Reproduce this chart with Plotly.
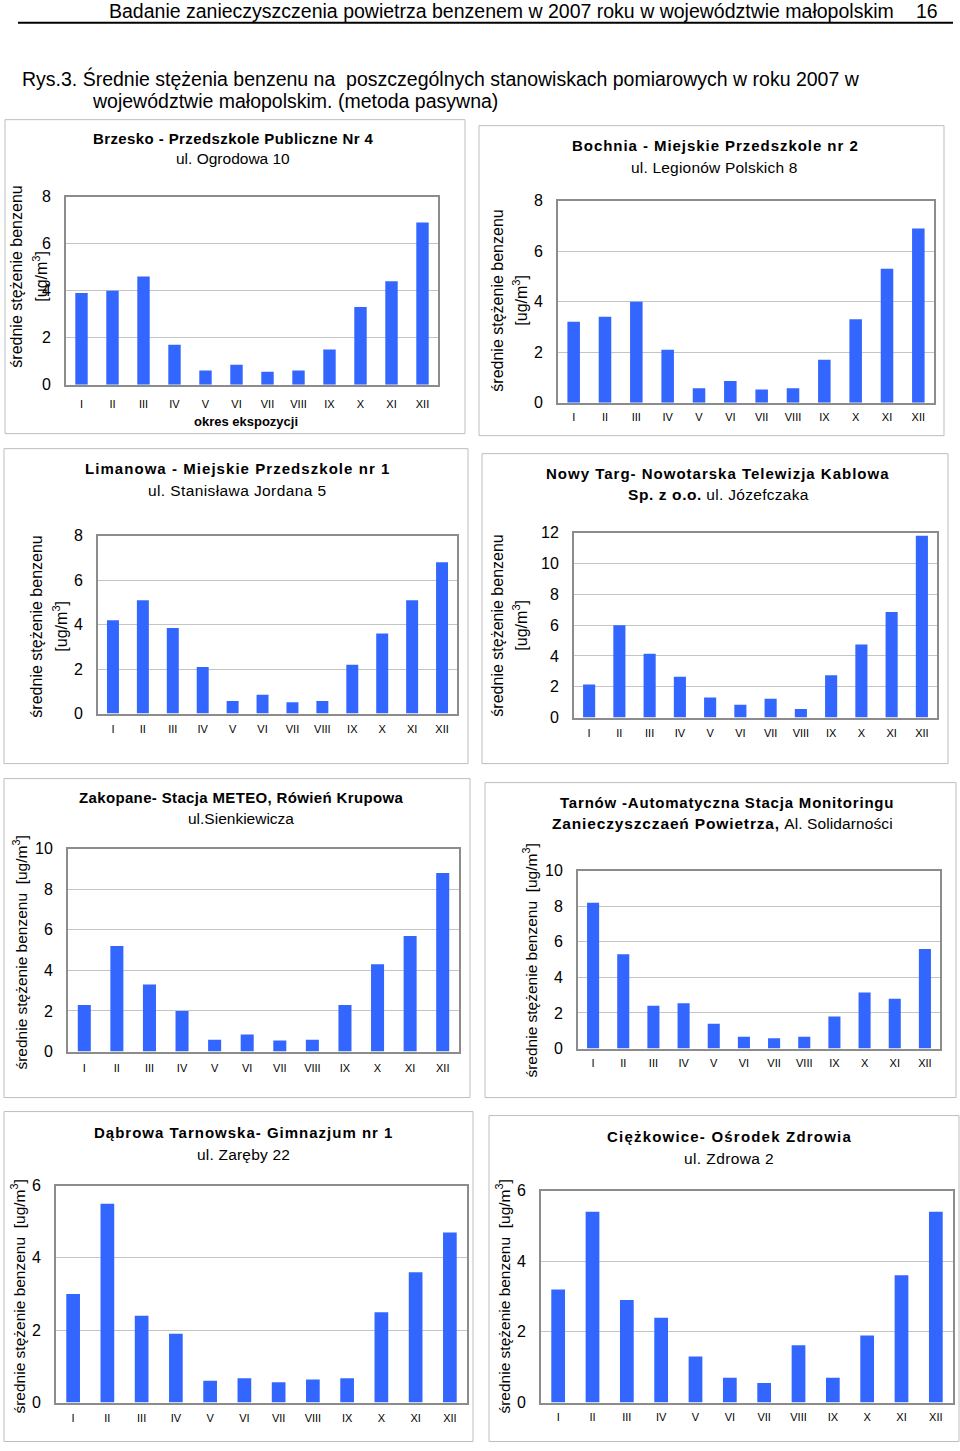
import plotly.graph_objects as go

W, H = 960, 1451
FONT = "Liberation Sans, Arial, sans-serif"

months = ["I", "II", "III", "IV", "V", "VI", "VII", "VIII", "IX", "X", "XI", "XII"]

brzesko = [3.9, 4.0, 4.6, 1.7, 0.6, 0.85, 0.55, 0.6, 1.5, 3.3, 4.4, 6.9]
bochnia = [3.2, 3.4, 4.0, 2.1, 0.57, 0.86, 0.52, 0.57, 1.7, 3.3, 5.3, 6.9]
limanowa = [4.2, 5.1, 3.85, 2.1, 0.57, 0.85, 0.51, 0.57, 2.2, 3.6, 5.1, 6.8]
nowy_targ = [2.15, 6.0, 4.15, 2.65, 1.3, 0.84, 1.23, 0.56, 2.75, 4.75, 6.85, 11.8]
zakopane = [2.3, 5.2, 3.3, 2.0, 0.58, 0.84, 0.54, 0.58, 2.3, 4.3, 5.7, 8.8]
tarnow = [8.2, 5.3, 2.4, 2.55, 1.4, 0.66, 0.58, 0.66, 1.8, 3.15, 2.8, 5.6]
dabrowa = [3.0, 5.5, 2.4, 1.9, 0.6, 0.67, 0.56, 0.64, 0.67, 2.5, 3.6, 4.7]
ciezkowice = [3.2, 5.4, 2.9, 2.4, 1.3, 0.7, 0.55, 1.62, 0.7, 1.9, 3.6, 5.4]

y_max = [8, 8, 8, 12, 10, 10, 6, 6]

titles = [
    "Brzesko - Przedszkole Publiczne Nr 4",
    "Bochnia - Miejskie Przedszkole nr 2",
    "Limanowa - Miejskie Przedszkole nr 1",
    "Nowy Targ- Nowotarska Telewizja Kablowa",
    "Zakopane- Stacja METEO, Rówień Krupowa",
    "Tarnów -Automatyczna Stacja Monitoringu",
    "Dąbrowa Tarnowska- Gimnazjum nr 1",
    "Ciężkowice- Ośrodek Zdrowia",
]
subtitle_bold = ["", "", "", "Sp. z o.o.", "", "Zanieczyszczaeń Powietrza,", "", ""]
subtitles = [
    "ul. Ogrodowa 10",
    "ul. Legionów Polskich 8",
    "ul. Stanisława Jordana 5",
    "ul. Józefczaka",
    "ul.Sienkiewicza",
    "Al. Solidarności",
    "ul. Zaręby 22",
    "ul. Zdrowa 2",
]
ytitle_main = "średnie stężenie benzenu"
ytitle_unit = "[ug/m<sup>3</sup>]"
xtitle = "okres ekspozycji"

series = [brzesko, bochnia, limanowa, nowy_targ, zakopane, tarnow, dabrowa, ciezkowice]

# ---- layout geometry (pixels, as seen in the target picture) ----
panel_box = [(5, 119, 465, 433), (479, 125, 944, 435), (4, 448, 468, 763), (482, 453, 948, 763),
             (4, 778, 470, 1097), (485, 782, 956, 1097), (4, 1111, 473, 1447), (489, 1115, 959, 1447)]
plot_box = [(66, 196, 438, 384), (558, 200, 934, 402), (98, 535, 457, 713), (574, 532, 937, 717),
            (68, 848, 459, 1051), (578, 870, 940, 1048), (56, 1185, 467, 1402), (541, 1190, 953, 1402)]
# (title x, subtitle x, title y, subtitle y)
title_pos = [(233, 233, 138, 158), (715, 714, 145, 167), (237, 237, 468, 490), (718, 718, 473, 494),
             (241, 241, 797, 818), (727, 722, 802, 823), (243, 243, 1132, 1154), (729, 729, 1136, 1158)]
# letter spacing (px) for title, subtitle bold part, subtitle regular part
title_ls = [0.4, 0.95, 1.05, 1.0, 0.35, 0.8, 1.0, 1.2]
sub_bold_ls = [0, 0, 0, 0.6, 0, 0.85, 0, 0]
sub_ls = [0, 0.2, 0.4, 0.3, 0, 0.1, 0.2, 0.4]
# y-title: (x of main line, x of unit line or None, center y)
ytitle_pos = [(17, 40, 276), (498, 520, 300), (37, 60, 626), (498, 520, 625),
              (20, None, 952), (530, None, 960), (18, None, 1296), (503, None, 1296)]
xlab_standoff = [8, 3, 4, 4, 5, 3, 4, 3]

# the page is photographed with a small vertical offset/compression; compensate
Y_OFF, Y_SCALE = 7.3, 0.9884


def px(x):
    return x / W


def py(y):
    yy = (y - Y_OFF) / Y_SCALE
    yy = min(max(yy, 0.5), H - 0.5)
    return 1 - yy / H


def spaced(text, ls, bold=False):
    if bold:
        text = "<b>" + text + "</b>"
    if ls:
        return '<span style="letter-spacing:%.2fpx">%s</span>' % (ls, text)
    return text


fig = go.Figure()
annotations = []
shapes = []

for i, vals in enumerate(series):
    n = "" if i == 0 else str(i + 1)
    fig.add_trace(go.Bar(x=months, y=vals, marker=dict(color="#3366FF", line=dict(width=0)),
                         xaxis="x" + n, yaxis="y" + n, showlegend=False, hoverinfo="x+y"))
    x0, y0, x1, y1 = plot_box[i]
    fig.layout["xaxis" + n] = dict(
        domain=[px(x0), px(x1)], anchor="y" + n, type="category",
        showline=True, mirror=True, linecolor="#8c8c8c", linewidth=2,
        showgrid=False, ticks="", tickfont=dict(size=11, color="#000", family=FONT),
        ticklabelstandoff=xlab_standoff[i], fixedrange=True,
    )
    fig.layout["yaxis" + n] = dict(
        domain=[py(y1), py(y0)], anchor="x" + n, range=[0, y_max[i]], dtick=2,
        showline=True, mirror=True, linecolor="#8c8c8c", linewidth=2,
        showgrid=True, gridcolor="#c4c4c4", gridwidth=1, zeroline=False,
        ticks="", tickfont=dict(size=16, color="#000", family=FONT),
        ticklabelstandoff=10, fixedrange=True,
    )
    bx0, by0, bx1, by1 = panel_box[i]
    shapes.append(dict(type="rect", xref="paper", yref="paper", x0=px(bx0), x1=px(bx1),
                       y0=py(by1), y1=py(by0), line=dict(color="#bdbdbd", width=1)))
    tx, sx, ty1, ty2 = title_pos[i]
    annotations.append(dict(x=px(tx), y=py(ty1), xref="paper", yref="paper",
                            text=spaced(titles[i], title_ls[i], bold=True),
                            showarrow=False, xanchor="center", yanchor="middle",
                            font=dict(size=15, color="#000", family=FONT)))
    sub_text = spaced(subtitles[i], sub_ls[i])
    if subtitle_bold[i]:
        sub_text = spaced(subtitle_bold[i], sub_bold_ls[i], bold=True) + " " + sub_text
    annotations.append(dict(x=px(sx), y=py(ty2), xref="paper", yref="paper", text=sub_text,
                            showarrow=False, xanchor="center", yanchor="middle",
                            font=dict(size=15.5, color="#000", family=FONT)))
    xm, xu, yc = ytitle_pos[i]
    if xu is None:
        annotations.append(dict(x=px(xm), y=py(yc), xref="paper", yref="paper",
                                text=ytitle_main + "  " + ytitle_unit, textangle=-90,
                                showarrow=False, xanchor="center", yanchor="middle",
                                font=dict(size=15.5, color="#000", family=FONT)))
    else:
        annotations.append(dict(x=px(xm), y=py(yc), xref="paper", yref="paper",
                                text=ytitle_main, textangle=-90,
                                showarrow=False, xanchor="center", yanchor="middle",
                                font=dict(size=16, color="#000", family=FONT)))
        annotations.append(dict(x=px(xu), y=py(yc), xref="paper", yref="paper",
                                text=ytitle_unit, textangle=-90,
                                showarrow=False, xanchor="center", yanchor="middle",
                                font=dict(size=16, color="#000", family=FONT)))

# x-axis title of first panel
annotations.append(dict(x=px(246), y=py(421), xref="paper", yref="paper", text="<b>" + xtitle + "</b>",
                        showarrow=False, xanchor="center", yanchor="middle",
                        font=dict(size=13, color="#000", family=FONT)))

# page header and caption
annotations.append(dict(x=px(896), y=py(10), xref="paper", yref="paper",
                        text="Badanie zanieczyszczenia powietrza benzenem w 2007 roku w województwie małopolskim",
                        showarrow=False, xanchor="right", yanchor="middle",
                        font=dict(size=19.5, color="#000", family=FONT)))
annotations.append(dict(x=px(940), y=py(10), xref="paper", yref="paper", text="16",
                        showarrow=False, xanchor="right", yanchor="middle",
                        font=dict(size=19.5, color="#000", family=FONT)))
annotations.append(dict(x=px(20), y=py(78), xref="paper", yref="paper",
                        text="Rys.3. Średnie stężenia benzenu na  poszczególnych stanowiskach pomiarowych w roku 2007 w",
                        showarrow=False, xanchor="left", yanchor="middle",
                        font=dict(size=19.5, color="#000", family=FONT)))
annotations.append(dict(x=px(90), y=py(100), xref="paper", yref="paper",
                        text="województwie małopolskim. (metoda pasywna)",
                        showarrow=False, xanchor="left", yanchor="middle",
                        font=dict(size=19.5, color="#000", family=FONT)))
shapes.append(dict(type="line", xref="paper", yref="paper", x0=px(18), x1=px(953),
                   y0=py(22), y1=py(22), line=dict(color="#000", width=2)))

fig.update_layout(
    width=W, height=H, autosize=False, margin=dict(l=0, r=0, t=0, b=0, pad=0),
    paper_bgcolor="white", plot_bgcolor="white",
    bargap=0.6, annotations=annotations, shapes=shapes,
    font=dict(family=FONT, color="#000"),
)

fig.write_html(
    "out.html",
    config={"displayModeBar": False, "responsive": False},
    post_script="document.body.style.margin='0px';document.documentElement.style.overflow='hidden';",
)
